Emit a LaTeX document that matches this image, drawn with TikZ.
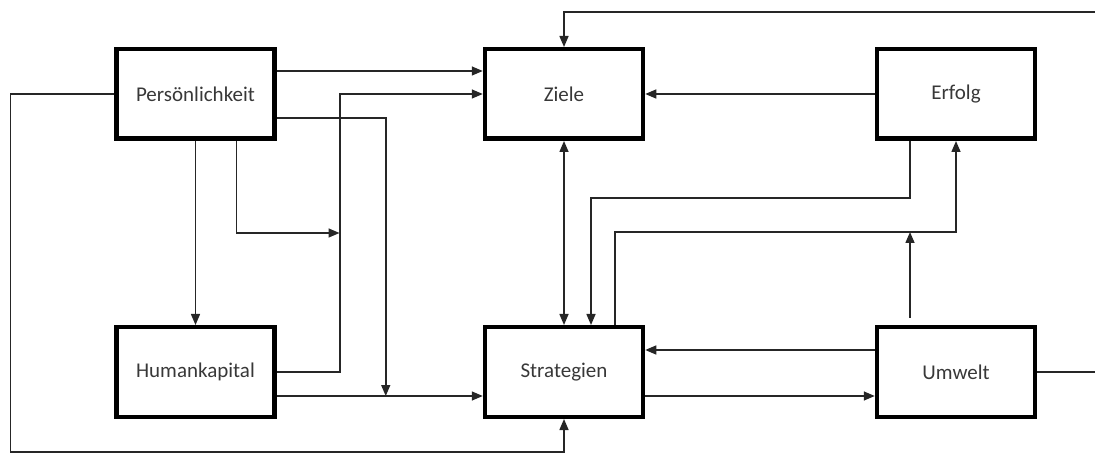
\documentclass[tikz,border=0pt]{standalone}
\usepackage{fontspec}
\setmainfont{Carlito}
\usetikzlibrary{arrows.meta,calc}
\begin{document}
\begin{tikzpicture}[x=1pt,y=-1pt,
  box/.style={draw=black,line width=4.5pt,minimum width=158pt,minimum height=89.5pt,
    inner sep=0pt,font=\fontsize{21}{25}\selectfont,text=black!78},
  conn/.style={line width=1.5pt,draw=black!85},
  arr/.style={conn,-{Triangle[length=11pt,width=9pt]}},
  arrb/.style={conn,{Triangle[length=11pt,width=9pt]}-{Triangle[length=11pt,width=9pt]}}]
\useasboundingbox (0,0) rectangle (1095,454);
\node[box] (P) at (195.5,94) {Persönlichkeit};
\node[box] (H) at (195.5,372) {Humankapital};
\node[box] (Z) at (564,94) {Ziele};
\node[box] (S) at (564,372) {Strategien};
\node[box] (E) at (956,94) {Erfolg};
\node[box] (U) at (956,372) {Umwelt};
% Persoenlichkeit -> Ziele
\draw[arr] ([yshift=23pt]P.east) -- ([yshift=23pt]Z.west);
% Humankapital -> Ziele
\draw[arr] (H.east) -- ++(63,0) |- (Z.west);
% Persoenlichkeit -> H->S line
\draw[arr] ([yshift=-24pt]P.east) -| ($([yshift=-24pt]H.east)+(109,0)$);
% Humankapital -> Strategien
\draw[arr] ([yshift=-24pt]H.east) -- ([yshift=-24pt]S.west);
% Persoenlichkeit -> Humankapital
\draw[arr] (P.south) -- (H.north);
% Persoenlichkeit -> H->Z line
\draw[arr] ([xshift=41pt]P.south) -- ++(0,92) -- ++(103,0);
% Persoenlichkeit -> Strategien (outer loop)
\draw[arr] (P.west) -- ++(-104,0) |- ($(S.south)+(0,33)$) -- (S.south);
% Ziele <-> Strategien
\draw[arrb] (Z.south) -- (S.north);
% Erfolg -> Ziele
\draw[arr] (E.west) -- (Z.east);
% Erfolg -> Strategien
\draw[arr] ([xshift=-46pt]E.south) -- ++(0,57) -| ([xshift=27pt]S.north);
% Strategien -> Erfolg
\draw[arr] ([xshift=51pt]S.north) -- ++(0,-93) -| (E.south);
% Umwelt -> S->E line
\draw[arr] ([xshift=-46pt,yshift=7pt]U.north) -- ++(0,-86);
% Umwelt -> Strategien
\draw[arr] ([yshift=22pt]U.west) -- ([yshift=22pt]S.east);
% Strategien -> Umwelt
\draw[arr] ([yshift=-24pt]S.east) -- ([yshift=-24pt]U.west);
% Umwelt -> Ziele (outer loop)
\draw[arr] (U.east) -- ++(70,0) |- ($(Z.north)+(0,-35)$) -- (Z.north);
\end{tikzpicture}
\end{document}
